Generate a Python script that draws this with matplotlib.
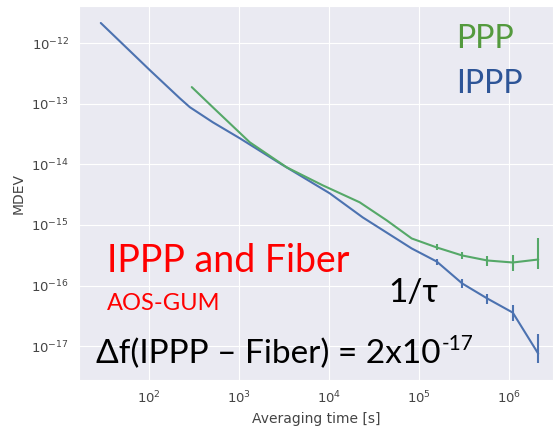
import numpy as np
import matplotlib
matplotlib.use("Agg")
import matplotlib.pyplot as plt
import seaborn as sns

sns.set_style("darkgrid")

# IPPP (blue)
tau_ippp = [29.3, 102.6, 221, 286, 514, 1026, 2858, 10260, 23880, 83560,
            1.585e5, 3.05e5, 5.8e5, 1.11e6, 2.13e6]
mdev_ippp = [2.14e-12, 3.58e-13, 1.23e-13, 8.75e-14, 4.94e-14, 2.69e-14,
             1.04e-14, 3.32e-15, 1.33e-15, 4.09e-16,
             2.49e-16, 1.08e-16, 6.10e-17, 3.58e-17, 7.52e-18]

# PPP (green)
tau_ppp = [300.6, 514, 1324, 3412, 8570, 22080, 44060, 83560,
           1.585e5, 3.05e5, 5.8e5, 1.11e6, 2.13e6]
mdev_ppp = [1.875e-13, 8.75e-14, 2.31e-14, 8.91e-15, 4.50e-15, 2.36e-15,
            1.19e-15, 5.98e-16,
            4.25e-16, 3.13e-16, 2.59e-16, 2.40e-16, 2.69e-16]

# error bar ranges on the last five points
tau_eb = [1.585e5, 3.05e5, 5.8e5, 1.11e6, 2.13e6]
ippp_lo = [2.22e-16, 9.27e-17, 5.04e-17, 2.64e-17, 5.33e-18]
ippp_hi = [2.79e-16, 1.26e-16, 7.38e-17, 4.85e-17, 1.61e-17]
ppp_lo = [3.79e-16, 2.79e-16, 2.14e-16, 1.77e-16, 1.91e-16]
ppp_hi = [4.76e-16, 3.51e-16, 3.13e-16, 3.25e-16, 5.98e-16]

blue = '#4C72B0'
green = '#55A868'

fig = plt.figure(figsize=(5.55, 4.33), dpi=100)
ax = fig.add_axes([0.142, 0.122, 0.854, 0.864])

ax.plot(tau_ippp, mdev_ippp, color=blue, lw=1.5)
ax.plot(tau_ppp, mdev_ppp, color=green, lw=1.5)

y_i = np.array(mdev_ippp[-5:])
ax.errorbar(tau_eb, y_i, yerr=[y_i - np.array(ippp_lo), np.array(ippp_hi) - y_i],
            fmt='none', ecolor=blue, elinewidth=1.5, capsize=0)
y_p = np.array(mdev_ppp[-5:])
ax.errorbar(tau_eb, y_p, yerr=[y_p - np.array(ppp_lo), np.array(ppp_hi) - y_p],
            fmt='none', ecolor=green, elinewidth=1.5, capsize=0)

ax.set_xscale('log')
ax.set_yscale('log')
ax.set_xlim(16.7, 3.09e6)
ax.set_ylim(2.75e-18, 4.07e-12)
ax.minorticks_off()
ax.set_xticks([1e2, 1e3, 1e4, 1e5, 1e6])
ax.set_yticks([1e-17, 1e-16, 1e-15, 1e-14, 1e-13, 1e-12])
ax.tick_params(labelsize=9.5, colors='#444444')
ax.set_xlabel('Averaging time [s]', fontsize=10, color='#444444')
ax.set_ylabel('MDEV', fontsize=10, color='#444444')

fam = ['Lato', 'DejaVu Sans']
ax.text(0.797, 0.888, 'PPP', transform=ax.transAxes, fontsize=23,
        color='#549A3E', family=fam, ha='left', va='baseline')
ax.text(0.797, 0.767, 'IPPP', transform=ax.transAxes, fontsize=23,
        color='#2E5597', family=fam, ha='left', va='baseline')
ax.text(0.059, 0.289, 'IPPP and Fiber', transform=ax.transAxes, fontsize=27,
        color='#FF0000', family=fam, ha='left', va='baseline')
ax.text(0.059, 0.187, 'AOS-GUM', transform=ax.transAxes, fontsize=17,
        color='#FF0000', family=fam, ha='left', va='baseline')
ax.text(0.652, 0.209, '1/τ', transform=ax.transAxes, fontsize=24,
        color='black', family=fam, ha='left', va='baseline')
t = ax.text(0.036, 0.045, 'Δf(IPPP – Fiber) = 2x10',
            transform=ax.transAxes, fontsize=24, color='black', family=fam,
            ha='left', va='baseline')
ax.annotate('-17', xy=(1, 0.5), xycoords=t, xytext=(1, 0),
            textcoords='offset points', fontsize=15, color='black',
            family=fam, ha='left', va='bottom')

fig.savefig('out.png', dpi=100)
